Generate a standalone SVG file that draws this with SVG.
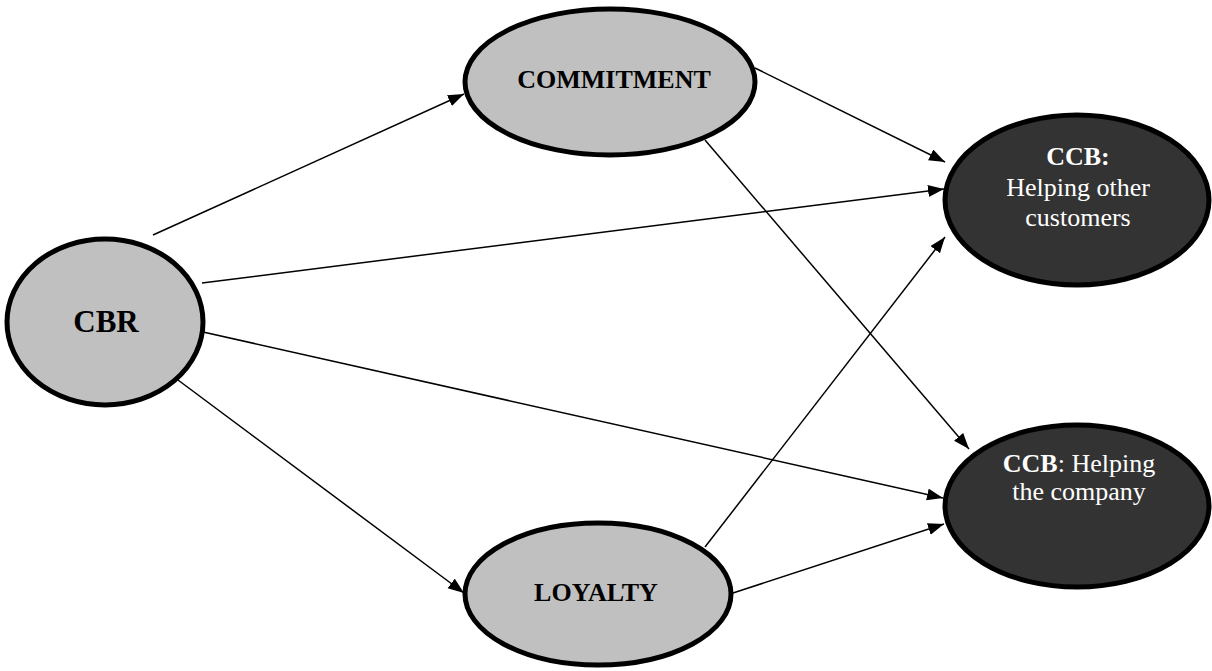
<svg xmlns="http://www.w3.org/2000/svg" width="1212" height="671" viewBox="0 0 1212 671">
<defs>
<marker id="ah" markerUnits="userSpaceOnUse" markerWidth="17" markerHeight="13" refX="16" refY="6" orient="auto">
<path d="M0,0 L16,6 L0,12 z" fill="#000"/>
</marker>
<style>
.light{fill:#c0c0c0;stroke:#000;stroke-width:5}
.dark{fill:#333333;stroke:#000;stroke-width:5}
.t{font-family:"Liberation Serif","Times New Roman",serif;font-size:26px;text-anchor:middle}
.b{font-weight:bold}
.w{fill:#fff}
.e line{stroke:#000;stroke-width:1.5;marker-end:url(#ah)}
</style>
</defs>
<rect width="1212" height="671" fill="#fff"/>
<g id="connectors" class="e">
<line x1="153" y1="235" x2="464" y2="94"/>
<line x1="755" y1="68" x2="945" y2="162"/>
<line x1="202" y1="283" x2="944" y2="189"/>
<line x1="705" y1="140" x2="969" y2="449"/>
<line x1="705" y1="547" x2="945" y2="237"/>
<line x1="203" y1="332" x2="943" y2="498"/>
<line x1="178" y1="380" x2="464" y2="593"/>
<line x1="733" y1="593" x2="944" y2="524"/>
</g>
<g id="cbr">
<ellipse class="light" cx="105" cy="322" rx="98" ry="83"/>
<text class="t b" x="106" y="332" style="font-size:31px">CBR</text>
</g>
<g id="commitment">
<ellipse class="light" cx="610" cy="82" rx="145" ry="73"/>
<text class="t b" x="614" y="88">COMMITMENT</text>
</g>
<g id="loyalty">
<ellipse class="light" cx="598" cy="594" rx="133" ry="71"/>
<text class="t b" x="596" y="601">LOYALTY</text>
</g>
<g id="ccb1">
<ellipse class="dark" cx="1077" cy="200" rx="132" ry="85"/>
<text class="t w" x="1078" y="165"><tspan class="b">CCB:</tspan></text>
<text class="t w" x="1078" y="196">Helping other</text>
<text class="t w" x="1078" y="226">customers</text>
</g>
<g id="ccb2">
<ellipse class="dark" cx="1077" cy="506" rx="132" ry="81"/>
<text class="t w" x="1079" y="472"><tspan class="b">CCB</tspan>: Helping</text>
<text class="t w" x="1079" y="500">the company</text>
</g>
</svg>
